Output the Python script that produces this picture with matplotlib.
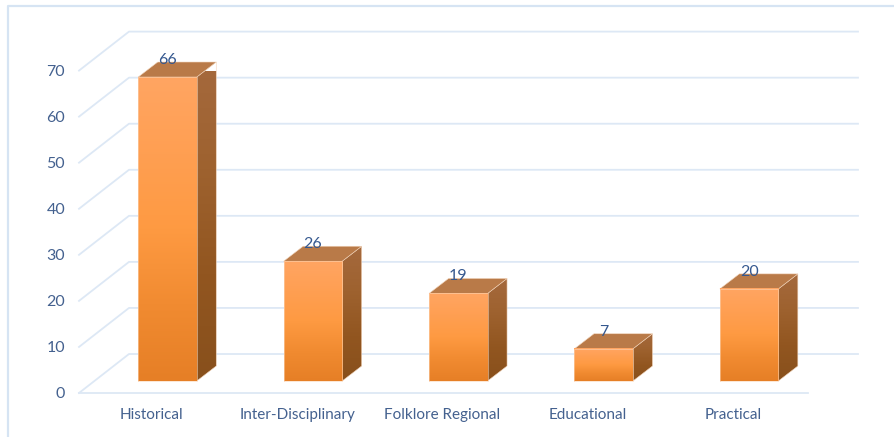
"""
Pseudo-3D column chart drawn on a flat matplotlib axes
"""

import matplotlib.pyplot as plt
import numpy as np
from matplotlib.colors import LinearSegmentedColormap
from matplotlib.patches import Polygon

categories = ['Historical', 'Inter-Disciplinary', 'Folklore Regional', 'Educational', 'Practical']
values = [66, 26, 19, 7, 20]
y_ticks = [0, 10, 20, 30, 40, 50, 60, 70]

plt.rcParams['font.family'] = ['Lato', 'DejaVu Sans']

W, H = 894, 437
GRID = '#dde8f5'
TEXT = '#44618f'

fig = plt.figure(figsize=(W / 100, H / 100), dpi=100)
# front plane of the floor: value 0 at y=393, value 70 at y=70.6
pitch = 145.4
ppu = 4.606
ax = fig.add_axes([79 / W, 1 - 393 / H, 5 * pitch / W, 322.4 / H])
ax.set_xlim(-0.5, 4.5)
ax.set_ylim(0, 70)

# depth of the box in data units
depth_x = 50 / pitch
depth_y = 39 / ppu
bar_w = 58.5 / pitch
bar_dx = 19.5 / pitch
bar_dy = 15 / ppu
off_x = 15.8 / pitch
off_y = 12 / ppu
floor_end = 4.5 + 2 / pitch

front_cm = LinearSegmentedColormap.from_list('front', ['#ffa562', '#ff9f52', '#fe9a42', '#f18b31', '#e67f26'])
side_cm = LinearSegmentedColormap.from_list('side', ['#a5693d', '#9e622f', '#925620', '#88501c'])
grad = np.linspace(0, 1, 128).reshape(-1, 1)

for spine in ax.spines.values():
    spine.set_visible(False)
ax.patch.set_visible(False)
ax.set_xticks(range(len(categories)))
ax.set_xticklabels(categories, fontsize=11, color=TEXT)
ax.set_yticks(y_ticks)
ax.set_yticklabels([str(t) for t in y_ticks], fontsize=11.5, color=TEXT)
ax.tick_params(axis='x', length=0, pad=11)
ax.tick_params(axis='y', length=0, pad=10)

# back wall, left wall and floor lines
for t in y_ticks:
    ax.plot([-0.5, -0.5 + depth_x, floor_end + depth_x], [t, t + depth_y, t + depth_y],
            color=GRID, lw=1.3, clip_on=False, zorder=1)
ax.plot([-0.5, floor_end], [0, 0], color=GRID, lw=1.3, clip_on=False, zorder=1)

for i, val in enumerate(values):
    x0 = i - 0.5 + (1 - bar_w) / 2 + off_x
    x1 = x0 + bar_w
    y0 = off_y
    y1 = val * (381 - 77) / 66 / ppu + off_y

    # right side
    side = Polygon([(x1, y0), (x1 + bar_dx, y0 + bar_dy), (x1 + bar_dx, y1 + bar_dy), (x1, y1)],
                   closed=True, facecolor='none', edgecolor='#f0d2b8', lw=0.4, zorder=3, clip_on=False)
    ax.add_patch(side)
    im = ax.imshow(grad, cmap=side_cm, aspect='auto', extent=(x1, x1 + bar_dx, y0, y1 + bar_dy), zorder=2.9)
    im.set_clip_path(side)

    # top
    ax.add_patch(Polygon([(x0, y1), (x1, y1), (x1 + bar_dx, y1 + bar_dy), (x0 + bar_dx, y1 + bar_dy)],
                         closed=True, facecolor='#b97a48', edgecolor='#f0d2b8', lw=0.4, zorder=3, clip_on=False))

    # front
    ax.imshow(grad, cmap=front_cm, aspect='auto', extent=(x0, x1, y0, y1), zorder=3)
    ax.plot([x0, x1, x1, x0, x0], [y0, y0, y1, y1, y0], color='#fbd5b5', lw=0.4, zorder=3.1, clip_on=False)

    ax.text((x0 + x1) / 2, y1 + 17 / ppu, str(val), ha='center', va='center',
            fontsize=11.5, color='#35588f', zorder=4)

ax.set_xlim(-0.5, 4.5)
ax.set_ylim(0, 70)

# chart frame, only left and top are inside the crop
fig.add_artist(plt.Line2D([8 / W, 8 / W, 1], [0, 1 - 6 / H, 1 - 6 / H], color='#d6e4f3', lw=1.6))

plt.savefig('out.png', dpi=100)
plt.close()
